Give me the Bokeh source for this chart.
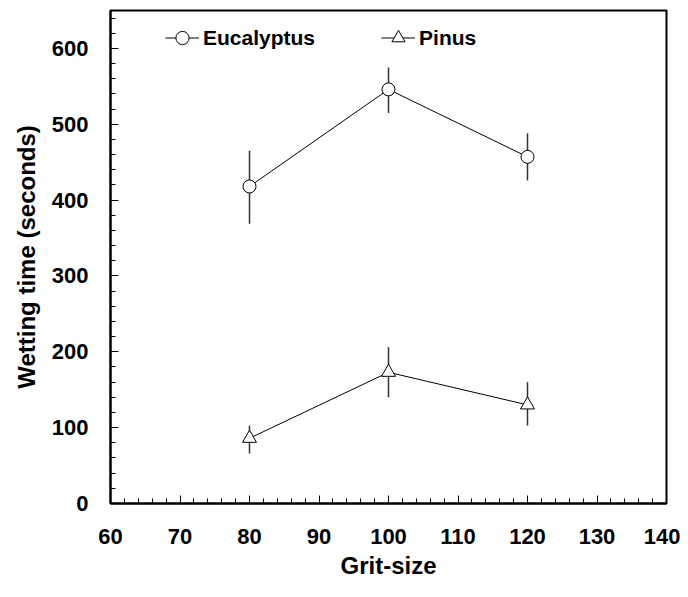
from bokeh.plotting import figure
from bokeh.models import ColumnDataSource, Whisker, Legend, LegendItem, FixedTicker
from bokeh.embed import file_html
from bokeh.resources import INLINE

grit = [80, 100, 120]
euc_mean = [418, 546, 457]
euc_lo = [369, 515, 426]
euc_hi = [465, 575, 488]
pin_mean = [86, 173, 130]
pin_lo = [66, 140, 103]
pin_hi = [103, 206, 160]
x_ticks = [60, 70, 80, 90, 100, 110, 120, 130, 140]
y_ticks = [0, 100, 200, 300, 400, 500, 600]
x_minor = list(range(60, 141, 2))
y_minor = list(range(0, 651, 20))

FONT = "Liberation Sans"

p = figure(width=680, height=589, x_range=(60, 140), y_range=(0, 650),
           output_backend="svg", toolbar_location=None,
           min_border_left=110, min_border_right=14, min_border_top=10, min_border_bottom=86)
p.background_fill_color = "white"
p.border_fill_color = "white"
p.xgrid.visible = False
p.ygrid.visible = False
p.outline_line_color = "black"
p.outline_line_width = 2

for ax, ticks, minor in ((p.xaxis[0], x_ticks, x_minor), (p.yaxis[0], y_ticks, y_minor)):
    ax.ticker = FixedTicker(ticks=ticks, minor_ticks=minor)
    ax.axis_line_width = 2
    ax.axis_line_color = "black"
    ax.major_tick_in = 8
    ax.major_tick_out = 0
    ax.minor_tick_in = 5
    ax.minor_tick_out = 0
    ax.major_tick_line_width = 1
    ax.minor_tick_line_width = 1
    ax.major_label_text_font = FONT
    ax.major_label_text_font_style = "bold"
    ax.major_label_text_font_size = "22px"
    ax.major_label_text_color = "black"
    ax.axis_label_text_font = FONT
    ax.axis_label_text_font_style = "bold"
    ax.axis_label_text_font_size = "24px"
    ax.axis_label_text_color = "black"

p.xaxis.axis_label = "Grit-size"
p.yaxis.axis_label = "Wetting time (seconds)"
p.xaxis.major_label_standoff = 25
p.yaxis.major_label_standoff = 22
p.xaxis.axis_label_standoff = 5
p.yaxis.axis_label_standoff = 9

src_e = ColumnDataSource(dict(x=grit, y=euc_mean, lo=euc_lo, hi=euc_hi))
src_p = ColumnDataSource(dict(x=grit, y=pin_mean, lo=pin_lo, hi=pin_hi))

for src in (src_e, src_p):
    w = Whisker(source=src, base="x", lower="lo", upper="hi",
                line_color="#333333", line_width=1.5)
    w.upper_head = None
    w.lower_head = None
    p.add_layout(w)

le = p.line("x", "y", source=src_e, line_color="black", line_width=1)
ce = p.scatter("x", "y", source=src_e, marker="circle", size=13,
               fill_color="white", line_color="black", line_width=1)
lp = p.line("x", "y", source=src_p, line_color="black", line_width=1)
tp = p.scatter("x", "y", source=src_p, marker="triangle", size=14,
               fill_color="white", line_color="black", line_width=1)

legend = Legend(items=[LegendItem(label="Eucalyptus", renderers=[le, ce]),
                       LegendItem(label="Pinus", renderers=[lp, tp])],
                orientation="horizontal", location=(55, 449),
                border_line_color=None, background_fill_alpha=0,
                label_text_font=FONT, label_text_font_style="bold",
                label_text_font_size="21px", label_text_color="black",
                glyph_width=34, glyph_height=33,
                spacing=66, padding=0, margin=0, label_standoff=4)
p.add_layout(legend, "center")

open("out.html", "w").write(file_html(p, INLINE))
